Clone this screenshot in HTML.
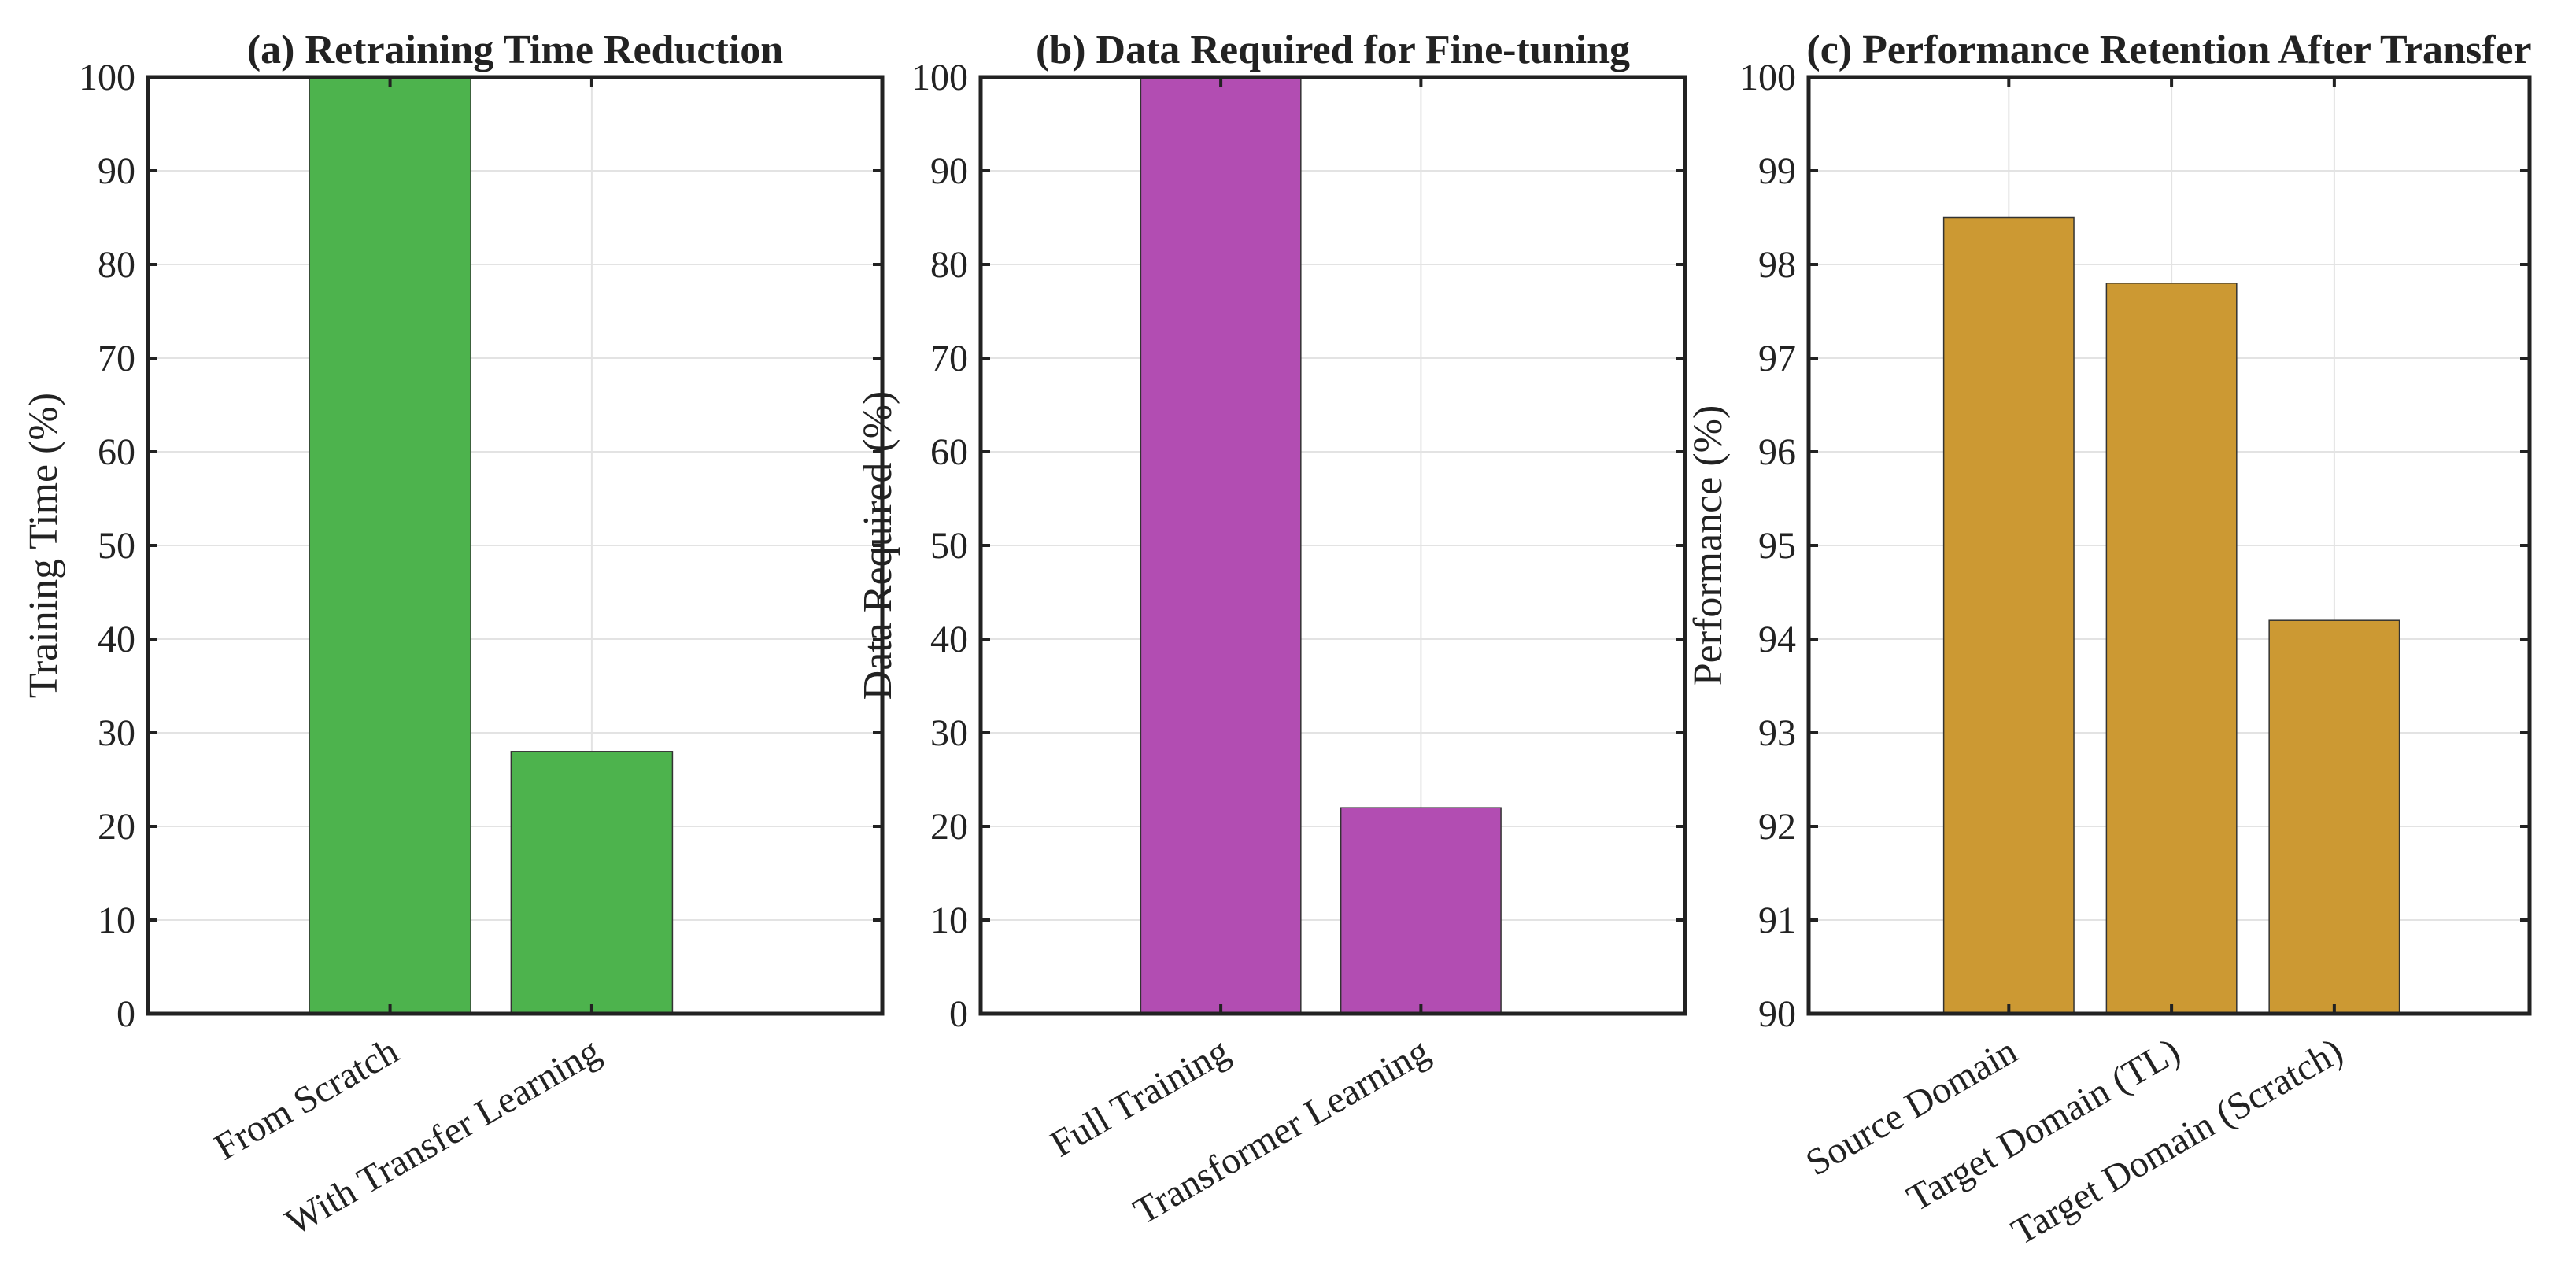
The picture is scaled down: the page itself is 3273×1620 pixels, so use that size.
<!DOCTYPE html>
<html><head><meta charset="utf-8"><style>
html,body{margin:0;padding:0;background:#fff;}
svg text{font-family:"Liberation Serif",serif;fill:#222;}
</style></head><body>
<svg id="fig" width="3273" height="1615" viewBox="0 0 3273 1615" xmlns="http://www.w3.org/2000/svg"></svg>
<script>
// Panel (a)
const catsA = ["From Scratch", "With Transfer Learning"];
const valsA = [100, 28];
// Panel (b)
const catsB = ["Full Training", "Transformer Learning"];
const valsB = [100, 22];
// Panel (c)
const catsC = ["Source Domain", "Target Domain (TL)", "Target Domain (Scratch)"];
const valsC = [98.5, 97.8, 94.2];
const ticksA = [0,10,20,30,40,50,60,70,80,90,100];
const ticksC = [90,91,92,93,94,95,96,97,98,99,100];

const NS = "http://www.w3.org/2000/svg";
const svgEl = document.getElementById("fig");
function mk(tag, attrs, parent){
  const e = document.createElementNS(NS, tag);
  for (const k in attrs) e.setAttribute(k, attrs[k]);
  (parent||svgEl).appendChild(e);
  return e;
}
const panels = [
  {id:"a", title:"(a) Retraining Time Reduction", ylabel:"Training Time (%)", cats:catsA, vals:valsA, ticks:ticksA, ymin:0, ymax:100, left:188, right:1121, xmin:-1.2, xmax:2.44, color:"#4db34d", ylx:60},
  {id:"b", title:"(b) Data Required for Fine-tuning", ylabel:"Data Required (%)", cats:catsB, vals:valsB, ticks:ticksA, ymin:0, ymax:100, left:1246, right:2141, xmin:-1.2, xmax:2.32, color:"#b24db2", ylx:1120},
  {id:"c", title:"(c) Performance Retention After Transfer", ylabel:"Performance (%)", cats:catsC, vals:valsC, ticks:ticksC, ymin:90, ymax:100, left:2298, right:3214, xmin:-1.23, xmax:3.2, color:"#cc9933", ylx:2175}
];
const plotTop = 98, plotBottom = 1288;
panels.forEach(p => {
  const g = mk("g", {});
  
  
  const w = p.right - p.left;
  const X = i => p.left + (i - p.xmin) / (p.xmax - p.xmin) * w;
  const Y = v => plotBottom - (v - p.ymin) / (p.ymax - p.ymin) * (plotBottom - plotTop);
  const bw = (X(1) - X(0)) * 0.8;
  p.ticks.forEach(t => {
    const l = mk("line", {x1:p.left, x2:p.right, y1:Y(t), y2:Y(t), stroke:"#e3e3e3", "stroke-width":2}, g);
    
    
  });
  p.cats.forEach((c, i) => {
    const l = mk("line", {x1:X(i), x2:X(i), y1:plotTop, y2:plotBottom, stroke:"#e3e3e3", "stroke-width":2}, g);
    
    
  });
  p.vals.forEach((v, i) => {
    const y = Y(Math.min(v, p.ymax));
    const r = mk("rect", {x:X(i) - bw/2, y:y, width:bw, height:plotBottom - y, fill:p.color, stroke:"#333", "stroke-width":1.5}, g);
    
    
  });
  const fr = mk("rect", {x:p.left, y:plotTop, width:w, height:plotBottom-plotTop, fill:"none", stroke:"#222", "stroke-width":5}, g);
  
  
  p.ticks.forEach(t => {
    mk("line", {x1:p.left, x2:p.left+12, y1:Y(t), y2:Y(t), stroke:"#222", "stroke-width":4}, g);
    mk("line", {x1:p.right-12, x2:p.right, y1:Y(t), y2:Y(t), stroke:"#222", "stroke-width":4}, g);
    const tx = mk("text", {x:p.left - 16, y:Y(t) + 16, "text-anchor":"end", "font-size":48}, g);
    tx.textContent = t;
    
    
  });
  p.cats.forEach((c, i) => {
    mk("line", {x1:X(i), x2:X(i), y1:plotBottom-12, y2:plotBottom, stroke:"#222", "stroke-width":4}, g);
    mk("line", {x1:X(i), x2:X(i), y1:plotTop, y2:plotTop+12, stroke:"#222", "stroke-width":4}, g);
    const lx = X(i) + 14, ly = 1345;
    const tx = mk("text", {x:lx, y:ly, "text-anchor":"end", "font-size":48, transform:`rotate(-30 ${lx} ${ly})`}, g);
    tx.textContent = c;
    
    
  });
  const tt = mk("text", {x:(p.left+p.right)/2, y:80, "text-anchor":"middle", "font-size":52, "font-weight":"bold"}, g);
  tt.textContent = p.title;
  
  
  const yl = mk("text", {x:p.ylx, y:693, "text-anchor":"middle", "font-size":52, transform:`rotate(-90 ${p.ylx} 693)`, "dominant-baseline":"middle"}, g);
  yl.textContent = p.ylabel;
  
  
});
</script>
</body></html>
